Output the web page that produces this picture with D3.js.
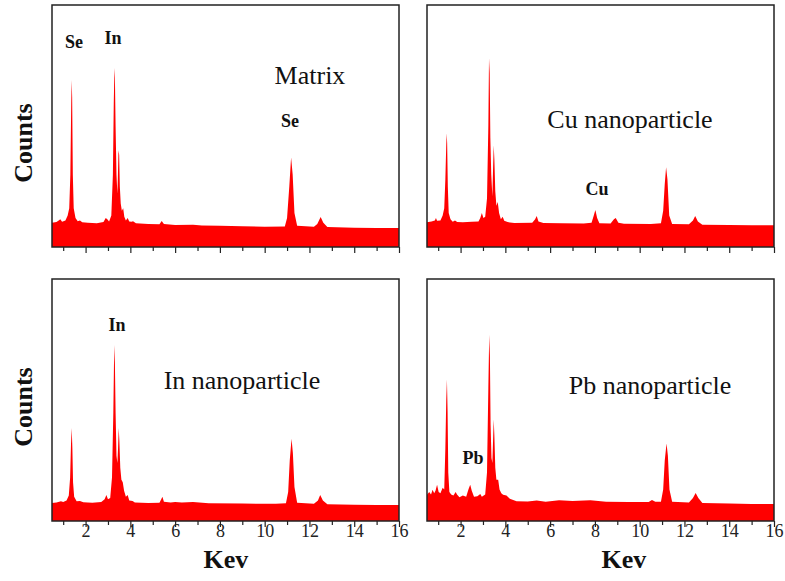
<!DOCTYPE html>
<html>
<head>
<meta charset="utf-8">
<script src="https://cdn.jsdelivr.net/npm/d3@7"></script>
<style>
  body { margin: 0; background: #fff; }
  text { font-family: "Times New Roman", "Liberation Serif", serif; }
</style>
</head>
<body>
<script>
// spectra as [keV, counts] (counts in % of panel height)
const matrixSpectrum = [[0.5,10],[0.7,10.3],[0.8,11],[0.87,11.5],[0.95,10.4],[1.1,11],[1.2,13],[1.27,16],[1.32,30],[1.36,60],[1.38,69],[1.4,62],[1.43,30],[1.47,16],[1.55,12],[1.65,10.6],[1.75,11],[1.85,10.2],[2.1,10],[2.5,9.8],[2.8,10.3],[2.9,12],[2.97,11.5],[3.05,10.5],[3.15,13],[3.22,30],[3.26,60],[3.29,74],[3.31,70],[3.34,50],[3.38,30],[3.42,22],[3.44,28],[3.47,40],[3.5,38],[3.53,25],[3.57,18],[3.62,15],[3.68,16],[3.73,12.5],[3.8,11],[3.88,12],[3.95,10.5],[4.05,10.4],[4.12,10.6],[4.25,9.8],[4.8,9.5],[5.3,9.4],[5.4,10.7],[5.5,9.5],[6,9.1],[6.8,9.2],[7.2,8.9],[8,8.8],[9,8.6],[10,8.4],[10.9,8.5],[11,12],[11.1,25],[11.18,37],[11.25,30],[11.33,14],[11.45,8.8],[12.2,8.4],[12.35,9.5],[12.5,12.4],[12.62,10],[12.8,8.3],[14,8],[15,7.9],[16,7.9]];
const cuSpectrum = [[0.5,10.2],[0.7,10.5],[0.85,11],[0.9,12],[0.95,10.8],[1.1,11],[1.2,13],[1.27,16],[1.32,28],[1.36,42],[1.38,47],[1.4,43],[1.43,25],[1.47,14],[1.55,11.5],[1.65,10.4],[1.75,11],[1.85,10.3],[2.1,10.2],[2.5,10.4],[2.8,10.5],[2.88,12],[2.95,14],[3.02,12],[3.1,12.5],[3.18,20],[3.24,50],[3.27,78],[3.3,72],[3.33,45],[3.37,30],[3.42,21],[3.45,32],[3.48,42],[3.51,36],[3.55,23],[3.6,17],[3.66,18.6],[3.72,14],[3.8,11.5],[3.88,12.5],[3.95,10.8],[4.1,10.3],[4.4,9.9],[5.2,10],[5.33,11.5],[5.4,12.8],[5.48,10.5],[5.7,9.9],[6.5,9.8],[7.5,9.7],[7.85,10],[7.95,13],[8.02,15.3],[8.1,12],[8.2,9.8],[8.7,9.7],[8.85,11.5],[8.93,12],[9.05,10],[9.3,9.6],[10.5,9.5],[10.95,9.8],[11.05,15],[11.12,26],[11.18,33],[11.24,28],[11.32,13],[11.45,9.5],[12.2,9.4],[12.38,11],[12.48,12.8],[12.6,10.5],[12.8,9.2],[14,9.1],[15,9],[16,9]];
const inSpectrum = [[0.5,7.4],[0.7,7.6],[0.9,8.2],[1,7.8],[1.15,8.5],[1.25,10.5],[1.31,18],[1.35,32],[1.38,38.4],[1.41,30],[1.44,16],[1.49,10],[1.6,8.2],[1.75,8.3],[1.9,7.7],[2.3,7.5],[2.7,7.8],[2.85,9],[2.93,10.7],[3,9],[3.1,9.5],[3.18,18],[3.24,45],[3.28,72.7],[3.31,65],[3.34,45],[3.38,27],[3.42,24],[3.45,30],[3.48,38.4],[3.51,33],[3.55,22],[3.6,17],[3.66,16],[3.72,12.5],[3.8,10],[3.88,10.7],[3.95,8.5],[4.1,8.3],[4.2,7.6],[4.8,7.4],[5.3,7.5],[5.38,9],[5.43,10],[5.5,8],[5.8,7.6],[6,7.9],[6.3,7.6],[6.8,7.8],[7.5,7.3],[9,7.2],[10.5,7.1],[10.95,7.3],[11.05,12],[11.12,25],[11.2,34],[11.26,28],[11.33,14],[11.45,7.5],[12.2,7.1],[12.38,8.5],[12.48,10.7],[12.6,8.5],[12.8,6.9],[14,6.7],[15,6.6],[16,6.6]];
const pbSpectrum = [[0.5,10.8],[0.6,12],[0.68,11],[0.75,12.9],[0.82,11.5],[0.88,12.5],[0.95,15],[1.02,12],[1.1,11.5],[1.2,13.7],[1.27,13],[1.32,30],[1.36,50],[1.39,58.5],[1.42,45],[1.45,20],[1.5,12],[1.58,11],[1.68,10.5],[1.78,12],[1.84,11],[1.95,9.8],[2.1,10.5],[2.25,10],[2.35,13],[2.43,15],[2.5,12.5],[2.6,10],[2.75,10.2],[2.88,11.2],[2.95,10],[3.1,11],[3.18,20],[3.24,55],[3.28,77],[3.31,68],[3.34,40],[3.38,26],[3.42,24],[3.45,33],[3.48,42],[3.51,35],[3.55,22],[3.6,17],[3.68,17],[3.74,13],[3.82,11.5],[3.9,10.8],[4.05,10.5],[4.2,9.2],[4.5,8.2],[5,8.1],[5.4,8.5],[5.8,8],[6.4,8.6],[7,8.3],[7.8,8.6],[8.5,8],[9.5,7.9],[10.4,7.8],[10.55,8.7],[10.7,8],[10.95,8],[11.05,13],[11.12,25],[11.2,32],[11.26,27],[11.33,13],[11.45,8],[12.2,7.6],[12.38,9.5],[12.5,11.6],[12.62,9.5],[12.8,7.4],[14,7.2],[15,7],[16,7]];

const majorTicks = [2, 4, 6, 8, 10, 12, 14, 16];
const minorTicks = [1, 3, 5, 7, 9, 11, 13, 15];
const panelTitles = ["Matrix", "Cu nanoparticle", "In nanoparticle", "Pb nanoparticle"];

const w = 785, h = 581;
const pw = 347, ph = 242;
const svg = d3.select("body").append("svg").attr("width", w).attr("height", h);

function drawPanel(px, py, spectrum, showLabels) {
  const g = svg.append("g").attr("transform", `translate(${px},${py})`);
  const x = d3.scaleLinear().domain([0.5, 16]).range([0, pw]);
  const y = d3.scaleLinear().domain([0, 100]).range([ph, 0]);

  g.append("path").datum(spectrum)
    .attr("fill", "#ff0000")
    .attr("d", d3.area().x(d => x(d[0])).y0(ph).y1(d => y(d[1])));

  const ax = g.append("g").attr("transform", `translate(0,${ph})`)
    .call(d3.axisBottom(x).tickValues(majorTicks).tickSize(6).tickSizeOuter(0).tickFormat(showLabels ? d3.format("d") : ""));
  ax.select(".domain").remove();
  ax.selectAll("line").attr("stroke", "#222").attr("stroke-width", 1.2);
  ax.selectAll("text").attr("y", 16).attr("dy", null)
    .attr("font-size", 18).attr("fill", "#222")
    .style("font-family", "'Times New Roman', 'Liberation Serif', serif");

  const mx = g.append("g").attr("transform", `translate(0,${ph})`)
    .call(d3.axisBottom(x).tickValues(minorTicks).tickSize(4).tickFormat(""));
  mx.select(".domain").remove();
  mx.selectAll("line").attr("stroke", "#222").attr("stroke-width", 1.2);

  g.append("rect").attr("width", pw).attr("height", ph)
    .attr("fill", "none").attr("stroke", "#222").attr("stroke-width", 1.5);
  return g;
}

drawPanel(52, 5, matrixSpectrum, false);
drawPanel(427, 5, cuSpectrum, false);
drawPanel(52, 279, inSpectrum, true);
drawPanel(427, 279, pbSpectrum, true);

function label(x, y, t, size, bold) {
  svg.append("text").attr("x", x).attr("y", y).attr("text-anchor", "middle")
    .attr("font-size", size).attr("font-weight", bold ? "bold" : "normal")
    .attr("fill", "#111").text(t);
}

// peak labels
label(74, 48, "Se", 18, true);
label(113, 44, "In", 18, true);
label(290, 127, "Se", 18, true);
label(597, 195, "Cu", 18, true);
label(117, 331, "In", 18, true);
label(473, 464, "Pb", 18, true);

// panel titles
label(310, 84, panelTitles[0], 26, false);
label(630, 128, panelTitles[1], 26, false);
label(242, 389, panelTitles[2], 26, false);
label(650, 394, panelTitles[3], 26, false);

// axis titles
label(226, 568, "Kev", 26, true);
label(624, 568, "Kev", 26, true);
[143, 407].forEach(cy => {
  svg.append("text").attr("transform", `translate(32,${cy}) rotate(-90)`)
    .attr("text-anchor", "middle").attr("font-size", 26).attr("font-weight", "bold")
    .attr("fill", "#111").text("Counts");
});
</script>
</body>
</html>
